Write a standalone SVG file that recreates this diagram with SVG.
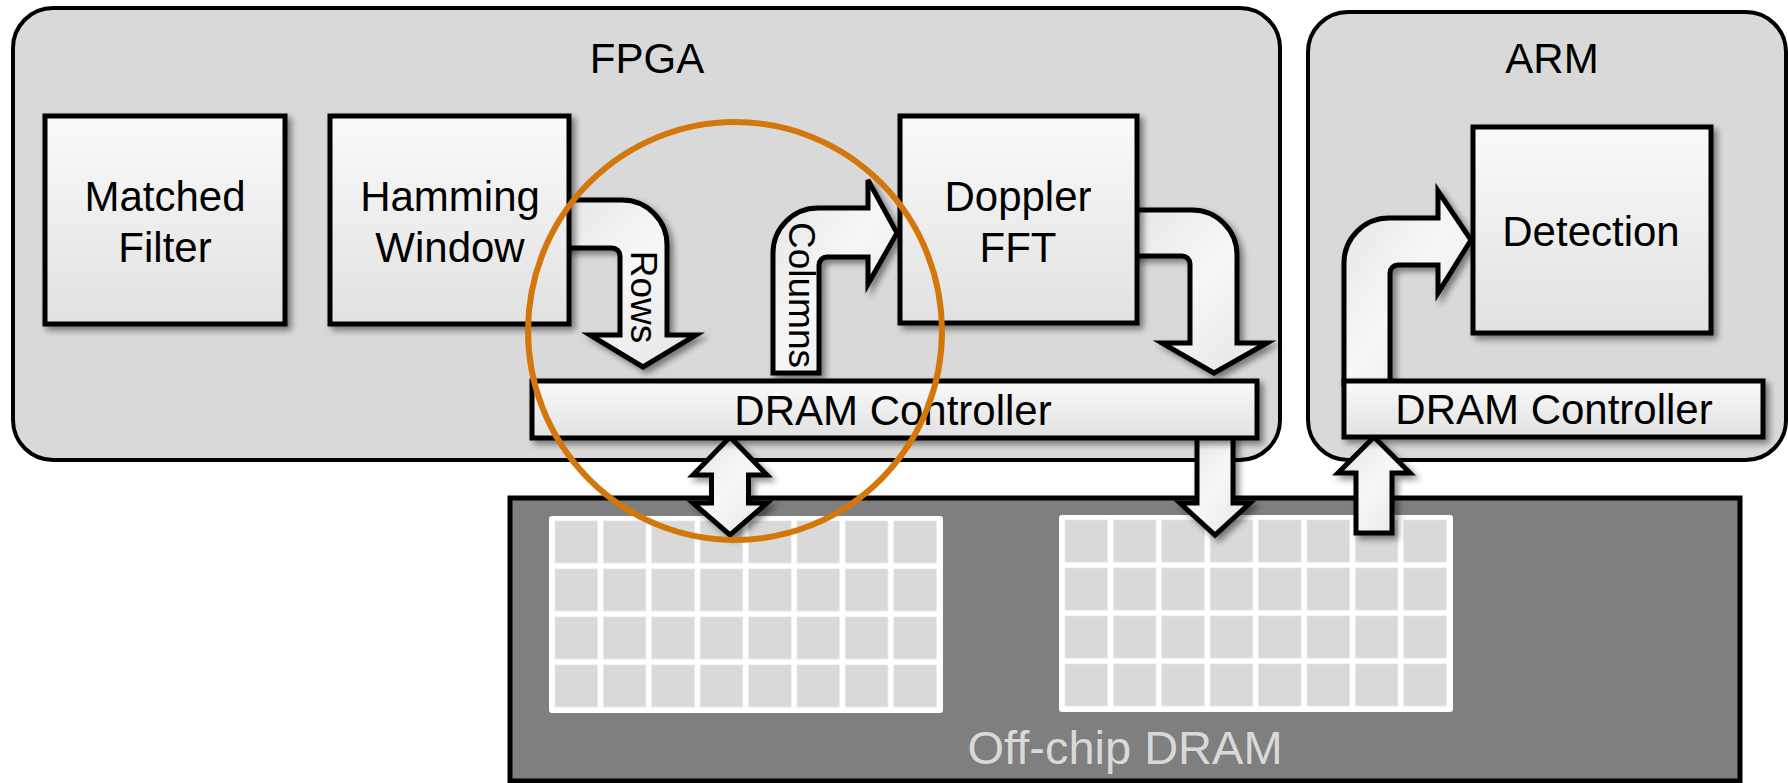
<svg xmlns="http://www.w3.org/2000/svg" width="1788" height="783" viewBox="0 0 1788 783">
<defs>
  <linearGradient id="boxGrad" x1="0" y1="0" x2="0" y2="1">
    <stop offset="0" stop-color="#fafafa"/>
    <stop offset="1" stop-color="#e1e1e1"/>
  </linearGradient>
  <linearGradient id="arrowGrad" x1="0" y1="0" x2="1" y2="1">
    <stop offset="0" stop-color="#e4e4e4"/>
    <stop offset="0.5" stop-color="#f7f7f7"/>
    <stop offset="1" stop-color="#e4e4e4"/>
  </linearGradient>
  <filter id="shadow" x="-20%" y="-20%" width="140%" height="140%">
    <feDropShadow dx="4" dy="4" stdDeviation="3" flood-color="#000" flood-opacity="0.45"/>
  </filter>
  <g id="grid">
    <rect x="0" y="0" width="394" height="197" rx="3" fill="#ffffff"/>
    <g fill="#d9d9d9" stroke="#e6e6e6" stroke-width="0.8">
      <rect x="6" y="5" width="42.5" height="42"/><rect x="54.4" y="5" width="42.5" height="42"/><rect x="102.8" y="5" width="42.5" height="42"/><rect x="151.2" y="5" width="42.5" height="42"/><rect x="199.6" y="5" width="42.5" height="42"/><rect x="248" y="5" width="42.5" height="42"/><rect x="296.4" y="5" width="42.5" height="42"/><rect x="344.8" y="5" width="42.5" height="42"/>
      <rect x="6" y="53" width="42.5" height="42"/><rect x="54.4" y="53" width="42.5" height="42"/><rect x="102.8" y="53" width="42.5" height="42"/><rect x="151.2" y="53" width="42.5" height="42"/><rect x="199.6" y="53" width="42.5" height="42"/><rect x="248" y="53" width="42.5" height="42"/><rect x="296.4" y="53" width="42.5" height="42"/><rect x="344.8" y="53" width="42.5" height="42"/>
      <rect x="6" y="101" width="42.5" height="42"/><rect x="54.4" y="101" width="42.5" height="42"/><rect x="102.8" y="101" width="42.5" height="42"/><rect x="151.2" y="101" width="42.5" height="42"/><rect x="199.6" y="101" width="42.5" height="42"/><rect x="248" y="101" width="42.5" height="42"/><rect x="296.4" y="101" width="42.5" height="42"/><rect x="344.8" y="101" width="42.5" height="42"/>
      <rect x="6" y="149" width="42.5" height="42"/><rect x="54.4" y="149" width="42.5" height="42"/><rect x="102.8" y="149" width="42.5" height="42"/><rect x="151.2" y="149" width="42.5" height="42"/><rect x="199.6" y="149" width="42.5" height="42"/><rect x="248" y="149" width="42.5" height="42"/><rect x="296.4" y="149" width="42.5" height="42"/><rect x="344.8" y="149" width="42.5" height="42"/>
    </g>
  </g>
</defs>
<style>
  .container { fill: #d9d9d9; stroke: #000; stroke-width: 4; }
  .box { fill: url(#boxGrad); stroke: #000; stroke-width: 5; filter: url(#shadow); }
  .arrow { fill: url(#arrowGrad); stroke: #000; stroke-width: 5; stroke-linejoin: miter; filter: url(#shadow); }
  .label { font-family: "Liberation Sans", Arial, sans-serif; font-size: 42px; fill: #000; text-anchor: middle; }
  .vlabel { font-family: "Liberation Sans", Arial, sans-serif; font-size: 37px; fill: #000; text-anchor: middle; }
  .dramlabel { font-family: "Liberation Sans", Arial, sans-serif; font-size: 47px; fill: #d9d9d9; text-anchor: middle; }
</style>
<rect width="1788" height="783" fill="#ffffff"/>

<g id="fpga">
  <rect class="container" x="13" y="8" width="1267" height="452" rx="40"/>
  <text class="label" x="647" y="73">FPGA</text>
</g>
<g id="arm">
  <rect class="container" x="1308" y="12" width="478" height="448" rx="40"/>
  <text class="label" x="1552" y="73">ARM</text>
</g>
<g id="offchip-dram">
  <rect x="510" y="498" width="1230" height="283" fill="#7f7f7f" stroke="#000" stroke-width="5"/>
  <use href="#grid" x="549" y="516"/>
  <use href="#grid" x="1059" y="515"/>
  <text class="dramlabel" x="1125" y="764">Off-chip DRAM</text>
</g>

<g id="connectors">
  <path id="rows-arrow" class="arrow" d="M540,200 H622 A45 45 0 0 1 667,245 V335 H696 L643,367 L590,335 H620 V256 A8 8 0 0 0 612,248 H540 Z"/>
  <path id="doppler-arrow" class="arrow" d="M1110,210 H1192 A45 45 0 0 1 1237,255 V343 H1267 L1214,373 L1162,343 H1190 V264 A8 8 0 0 0 1182,256 H1110 Z"/>
  <path id="columns-arrow" class="arrow" d="M773,373 V253 A45 45 0 0 1 818,208 H868 V180 L897,233 L868,284 V257 H827 A8 8 0 0 0 819,265 V373 Z"/>
  <path id="arm-arrow" class="arrow" d="M1344,384 V263 A45 45 0 0 1 1389,218 H1438 V191 L1471,240 L1438,293 V265 H1398 A8 8 0 0 0 1390,273 V384 Z"/>
  <path id="bidir-arrow" class="arrow" d="M730,437 L767,475 H748.5 V503 H767 L730,535 L693,503 H711.5 V475 H693 Z"/>
  <path id="down-arrow" class="arrow" d="M1197,437 H1233 V503 H1250 L1215,535 L1180,503 H1197 Z"/>
  <path id="up-arrow" class="arrow" d="M1374,437 L1410,473 H1392 V533 H1356 V473 H1338 Z"/>
  <text class="vlabel" transform="translate(631,297) rotate(90)">Rows</text>
  <text class="vlabel" transform="translate(789,295) rotate(90)">Columns</text>
</g>

<g id="matched-filter">
  <rect class="box" x="45" y="116" width="240" height="208"/>
  <text class="label" x="165" y="211">Matched</text>
  <text class="label" x="165" y="262">Filter</text>
</g>
<g id="hamming-window">
  <rect class="box" x="330" y="116" width="239" height="208"/>
  <text class="label" x="450" y="211">Hamming</text>
  <text class="label" x="450" y="262">Window</text>
</g>
<g id="doppler-fft">
  <rect class="box" x="900" y="116" width="237" height="207"/>
  <text class="label" x="1018" y="211">Doppler</text>
  <text class="label" x="1018" y="262">FFT</text>
</g>
<g id="detection">
  <rect class="box" x="1473" y="127" width="238" height="206"/>
  <text class="label" x="1591" y="246">Detection</text>
</g>
<g id="fpga-dram-controller">
  <rect class="box" x="532" y="381" width="725" height="57"/>
  <text class="label" x="893" y="425">DRAM Controller</text>
</g>
<g id="arm-dram-controller">
  <rect class="box" x="1344" y="381" width="419" height="56"/>
  <text class="label" x="1554" y="424">DRAM Controller</text>
</g>

<g id="highlight">
  <ellipse cx="735" cy="331" rx="207" ry="209" fill="none" stroke="#d4770a" stroke-width="6"/>
</g>
</svg>
